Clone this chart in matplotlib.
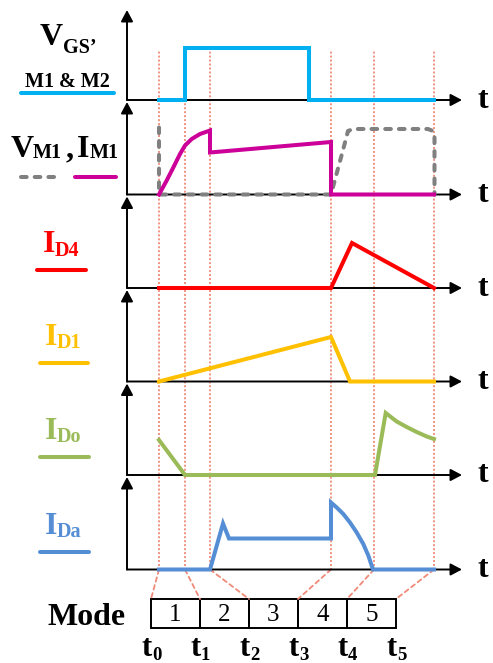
import matplotlib
matplotlib.use("Agg")
import matplotlib.pyplot as plt
from matplotlib.lines import Line2D
from matplotlib.patches import Rectangle, ConnectionPatch

# ---------------- data (time in arbitrary units, amplitudes arbitrary) ----------------
t_marks = [0, 2.6, 5.1, 17.2, 21.5, 27.5]          # t0 .. t5
t_names = ["0", "1", "2", "3", "4", "5"]
modes = ["1", "2", "3", "4", "5"]

vgs_t = [0, 2.6, 2.6, 14.95, 14.95, 27.5]
vgs_v = [0, 0, 5.25, 5.25, 0, 0]

im1_t = [0, 0.77, 1.43, 2.1, 2.6, 3.27, 4.1, 5.1, 5.1, 17.2, 17.2, 27.5]
im1_v = [0, 1.4, 2.7, 4.05, 4.9, 5.55, 6.05, 6.4, 4.2, 5.25, 0, 0]

vm1_t = [0, 0, 17.2, 18.4, 18.9, 19.4, 26.9, 27.4, 27.55, 27.55]
vm1_v = [6.7, 0, 0, 4.45, 6.35, 6.55, 6.55, 6.35, 5.75, 0]

id4_t = [0, 17.2, 19.3, 27.5]
id4_v = [0, 0, 4.5, 0]

id1_t = [0, 17.2, 19.1, 27.5]
id1_v = [0, 4.45, 0, 0]

ido_t = [0, 2.6, 21.6, 22.67, 23.77, 24.77, 25.77, 26.77, 27.5]
ido_v = [3.5, 0, 0, 6.2, 5.35, 4.8, 4.3, 3.85, 3.6]

ida_t = [0, 5.1, 6.4, 7.0, 17.2, 17.2, 17.77, 18.43, 19.1, 19.77, 20.43, 20.93, 21.4, 27.5]
ida_v = [0, 0, 4.6, 3.1, 3.1, 6.7, 6.2, 5.55, 4.7, 3.7, 2.55, 1.4, 0, 0]

# ---------------- style ----------------
C_VGS = "#00B0F0"
C_IM1 = "#CC0099"
C_VM1 = "#808080"
C_ID4 = "#FF0000"
C_ID1 = "#FFC000"
C_IDO = "#9BBB59"
C_IDA = "#558ED5"
C_DOT = "#F08A78"
SERIF = "Liberation Serif"
LW = 2.9
BIG = 23
SUB = 14.5

W, H = 493, 663
fig = plt.figure(figsize=(W / 100, H / 100), dpi=100)


def rect(left, top, right, bottom):
    return [left / W, 1 - bottom / H, (right - left) / W, (bottom - top) / H]


def fy(py):
    return 1 - py / H


XL, XR = 127, 462
XLIM = (-3.2, 30.3)

# overlay for the dotted time markers
ov = fig.add_axes(rect(XL, 50, XR, 569.5))
ov.set_xlim(*XLIM)
ov.set_ylim(0, 1)
ov.axis("off")
ov.set_zorder(0)
ov.vlines(t_marks, 0, 1, colors=C_DOT, linestyles=(0, (1.1, 1.1)), lw=1.3)

tops = [10, 102, 196.5, 290, 383.5, 477]
bases = [100, 194.5, 288, 381.5, 475, 569.5]
traces = [
    [(vgs_t, vgs_v, C_VGS, "-")],
    [(vm1_t, vm1_v, C_VM1, "--"), (im1_t, im1_v, C_IM1, "-")],
    [(id4_t, id4_v, C_ID4, "-")],
    [(id1_t, id1_v, C_ID1, "-")],
    [(ido_t, ido_v, C_IDO, "-")],
    [(ida_t, ida_v, C_IDA, "-")],
]

axes = []
for top, base, tr in zip(tops, bases, traces):
    ax = fig.add_axes(rect(XL, top, XR, base))
    ax.set_zorder(1)
    ax.patch.set_visible(False)
    ax.set_xlim(*XLIM)
    ax.set_ylim(0, (base - top) / 10)
    for s in ax.spines.values():
        s.set_visible(False)
    ax.set_xticks([])
    ax.set_yticks([])
    ap = dict(arrowstyle="-|>,head_length=0.85,head_width=0.45", lw=1.4,
              color="k", shrinkA=0, shrinkB=0, mutation_scale=8)
    ax.annotate("", xy=(1, 0), xytext=(0, 0), xycoords="axes fraction", arrowprops=ap)
    ax.annotate("", xy=(0, 1), xytext=(0, 0), xycoords="axes fraction", arrowprops=ap)
    for t, v, c, ls in tr:
        if ls == "--":
            ax.plot(t, v, color=c, lw=LW, linestyle=(0, (1.4, 2.0)),
                    dash_capstyle="round", clip_on=False, zorder=3)
        else:
            ax.plot(t, v, color=c, lw=LW, solid_capstyle="projecting",
                    solid_joinstyle="miter", clip_on=False, zorder=4)
    fig.text(477 / W, fy(base), "t", family=SERIF, weight="bold", fontsize=BIG,
             ha="left", va="center")
    axes.append(ax)

# ---------------- mode box ----------------
axm = fig.add_axes(rect(151, 599, 396, 627.5))
axm.set_xlim(0, len(modes))
axm.set_ylim(0, 1)
axm.axis("off")
for i, m in enumerate(modes):
    axm.add_patch(Rectangle((i, 0), 1, 1, fill=False, lw=1.4, ec="k", clip_on=False))
    axm.text(i + 0.5, 0.45, m, family=SERIF, fontsize=18, ha="center", va="center")
for i, (tm, nm) in enumerate(zip(t_marks, t_names)):
    con = ConnectionPatch(xyA=(tm, 0), coordsA=axes[-1].transData,
                          xyB=(i, 1), coordsB=axm.transData,
                          color=C_DOT, lw=1.3, linestyle=(0, (2.5, 2.0)))
    fig.add_artist(con)
    axm.annotate("t", xy=(i, 0), xycoords="data", xytext=(-4, -29),
                 textcoords="offset pixels", family=SERIF, weight="bold",
                 fontsize=22, ha="center", va="baseline")
    axm.annotate(nm, xy=(i, 0), xycoords="data", xytext=(1, -32),
                 textcoords="offset pixels", family=SERIF, weight="bold",
                 fontsize=13.5, ha="left", va="baseline")

fig.text(48 / W, fy(625), "Mode", family=SERIF, weight="bold", fontsize=BIG,
         ha="left", va="baseline")

# ---------------- left labels ----------------
def lab(x, y, s, size, color):
    fig.text(x / W, fy(y), s, family=SERIF, weight="bold", fontsize=size,
             color=color, ha="left", va="baseline")

lab(40, 45, "V", BIG, "k")
lab(63, 53, "GS’", SUB, "k")
fig.text(67.5 / W, fy(87), "M1 & M2", family=SERIF, weight="bold", fontsize=14.5,
         ha="center", va="baseline")
lab(11, 157, "V", BIG, "k")
lab(33, 158, "M1", SUB, "k")
lab(66, 157, ",", BIG, "k")
lab(77, 157, "I", BIG, "k")
lab(90, 158, "M1", SUB, "k")
lab(43, 252, "I", BIG, C_ID4)
lab(55, 256, "D4", SUB, C_ID4)
lab(45, 345, "I", BIG, C_ID1)
lab(57, 348, "D1", SUB, C_ID1)
lab(45, 439, "I", BIG, C_IDO)
lab(57, 442, "Do", SUB, C_IDO)
lab(45, 534, "I", BIG, C_IDA)
lab(57, 537, "Da", SUB, C_IDA)

# legend line samples
def seg(x1, x2, y, color, dashed=False):
    if dashed:
        ln = Line2D([x1 / W, x2 / W], [fy(y), fy(y)], transform=fig.transFigure,
                    color=color, lw=LW, linestyle=(0, (1.4, 2.0)), dash_capstyle="round")
    else:
        ln = Line2D([x1 / W, x2 / W], [fy(y), fy(y)], transform=fig.transFigure,
                    color=color, lw=LW, solid_capstyle="round")
    fig.add_artist(ln)

seg(21, 114, 93, C_VGS)
seg(21, 60, 177, C_VM1, dashed=True)
seg(75, 116, 177, C_IM1)
seg(37, 86, 270, C_ID4)
seg(40, 88, 363, C_ID1)
seg(40, 89, 457, C_IDO)
seg(40, 89, 552, C_IDA)

fig.savefig("out.png", dpi=100)
